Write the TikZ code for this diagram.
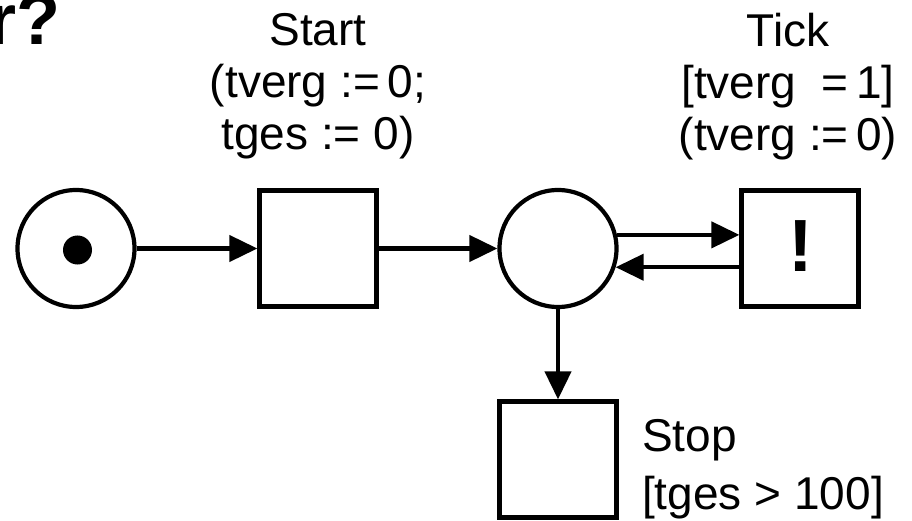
\documentclass[tikz,border=0pt]{standalone}
\usepackage{fontspec}
\setmainfont{Liberation Sans}
\usetikzlibrary{arrows.meta}

\begin{document}
\begin{tikzpicture}[x=1pt,y=-1pt,
  net/.style={line width=4.2pt},
  place/.style={net,draw,circle,inner sep=0pt,minimum size=117pt},
  trans/.style={net,draw,rectangle,inner sep=0pt,minimum width=117pt,minimum height=116pt},
  arc/.style={net,-{Triangle[length=28pt,width=26pt]}},
  lbl/.style={inner sep=0pt,font=\fontsize{46}{52}\selectfont}
]
\useasboundingbox (0,0) rectangle (912,521);

% title fragment
\node[font=\bfseries\fontsize{72}{76}\selectfont,inner sep=0pt,anchor=base east] (ttl) at (61,45) {r?};

% places and transitions
\node[place] (p1) at (76,248.5) {};
\node[circle,fill,inner sep=0pt,minimum size=29pt] (tok) at (77.5,250) {};
\node[trans] (t1) at (318,248.5) {};
\node[place] (p2) at (558,248.5) {};
\node[trans] (t2) at (800,248.5) {};
\node[font=\bfseries\fontsize{74}{80}\selectfont,inner sep=0pt] (bang) at (801,246.5) {!};
\node[trans] (t3) at (558,459.5) {};

% inscriptions
\node[lbl,align=center,anchor=north] (l1) at (318,13) {Start\\(tverg :=\,0;\\tges := 0)};
\node[lbl,align=center,anchor=north] (l2) at (788,13) {Tick\\{}[tverg \ =\,1]\\(tverg :=\,0)};
\node[lbl,align=left,anchor=north west,font=\fontsize{46}{58}\selectfont] (l3) at (642,419) {Stop\\{}[tges > 100]};

% arcs
\draw[arc] (p1) -- (t1);
\draw[arc] (t1) -- (p2);
\draw[arc] (p2.13) -- (p2.13 -| t2.west);
\draw[arc] (p2.-18 -| t2.west) -- (p2.-18);
\draw[arc] (p2) -- (t3);
\end{tikzpicture}
\end{document}
